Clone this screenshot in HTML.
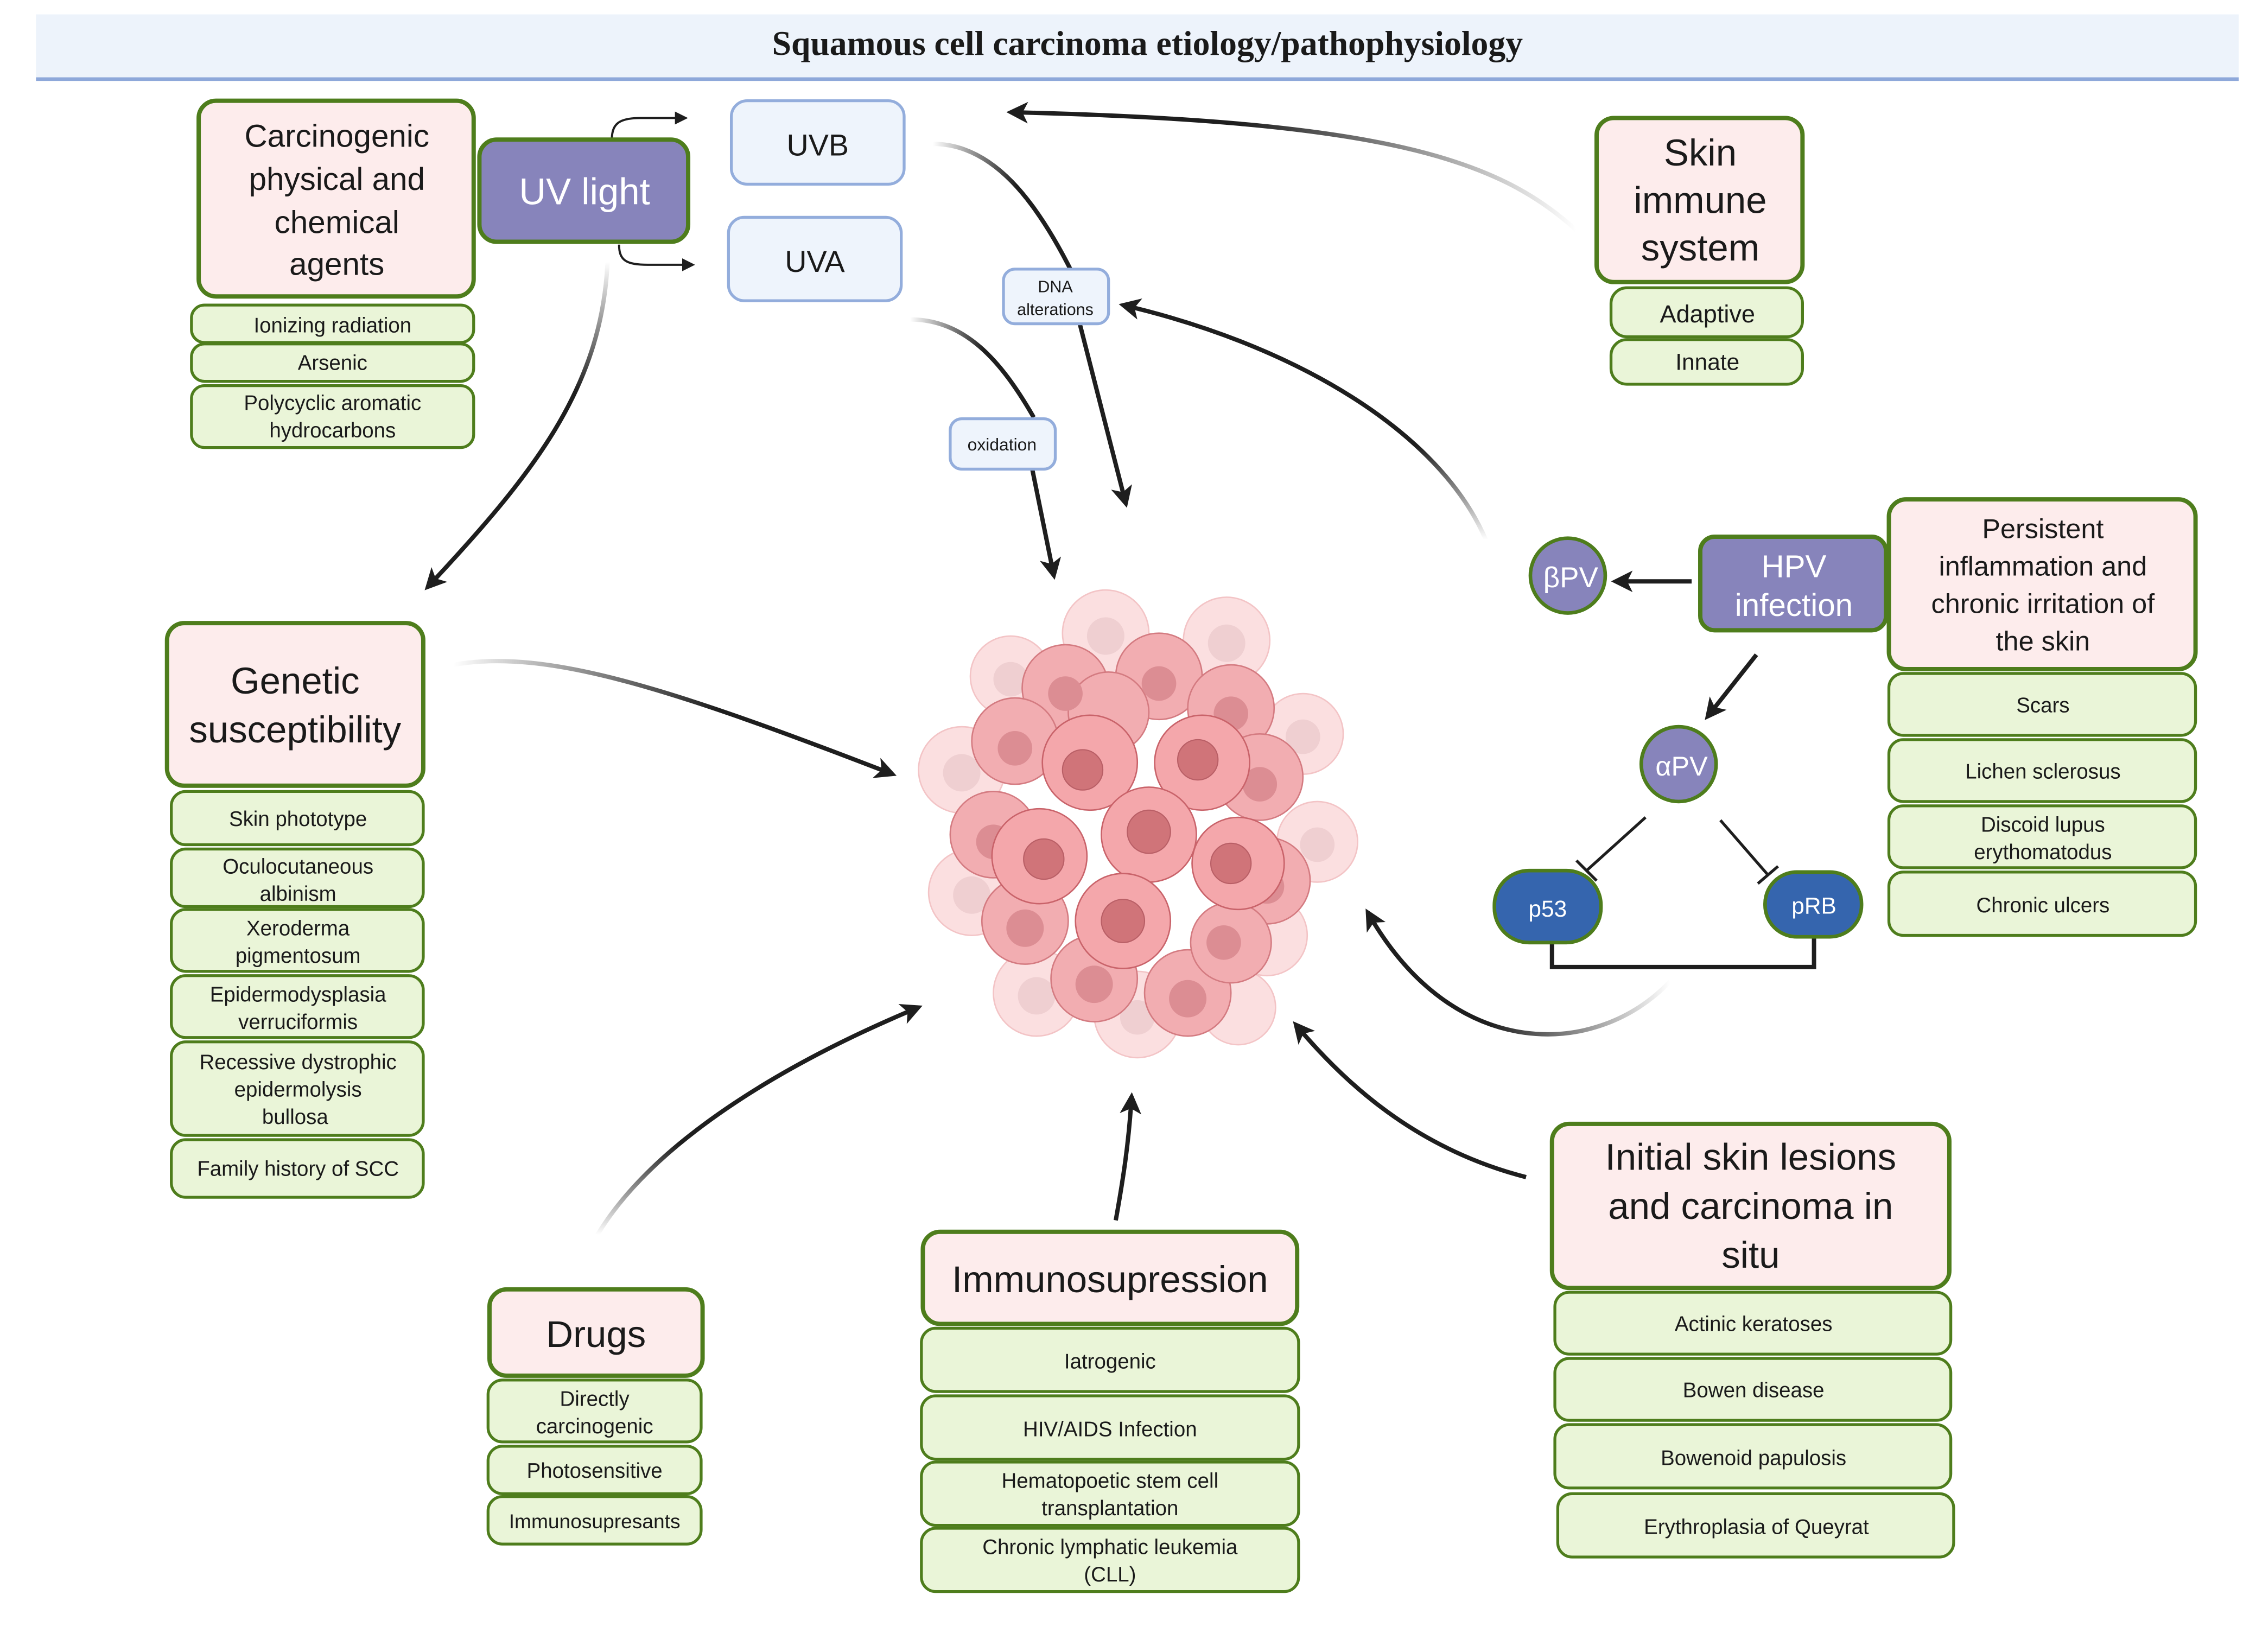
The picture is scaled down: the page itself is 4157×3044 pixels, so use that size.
<!DOCTYPE html>
<html><head><meta charset="utf-8"><style>
html,body{margin:0;padding:0;background:#fff}
svg{display:block}
text{font-family:"Liberation Sans",sans-serif;fill:#1a1a1a;text-anchor:middle}
.g{fill:#eaf5d8;stroke:#4e7d1c;stroke-width:2}
.p{fill:#fdecec;stroke:#4e7d1c;stroke-width:3}
.b{fill:#eef4fc;stroke:#93addc;stroke-width:2}
.s{font-size:14.5px}
.l{font-size:24px}
.w{fill:#fff}
.a{fill:none;stroke:#1e1e1e;stroke-width:3}
</style></head><body>
<svg width="4157" height="3044" viewBox="0 0 1567 1148" preserveAspectRatio="none" xmlns="http://www.w3.org/2000/svg">
<defs>
<marker id="ar" viewBox="0 0 10 10" refX="8" refY="5" markerWidth="5" markerHeight="5" orient="auto" markerUnits="strokeWidth"><path d="M0,0 L10,5 L0,10 L2.5,5z" fill="#1e1e1e"/></marker>
<marker id="sa" viewBox="0 0 10 10" refX="8" refY="5" markerWidth="6" markerHeight="6" orient="auto" markerUnits="strokeWidth"><path d="M0,0 L10,5 L0,10z" fill="#1e1e1e"/></marker>
<linearGradient id="fadeL" x1="0" y1="0" x2="1" y2="0"><stop offset="0" stop-color="#1e1e1e" stop-opacity="0"/><stop offset="0.6" stop-color="#1e1e1e"/></linearGradient>
<linearGradient id="fadeR" x1="1" y1="0" x2="0" y2="0"><stop offset="0" stop-color="#1e1e1e" stop-opacity="0"/><stop offset="0.6" stop-color="#1e1e1e"/></linearGradient>
<linearGradient id="fadeT" x1="0" y1="0" x2="0" y2="1"><stop offset="0" stop-color="#1e1e1e" stop-opacity="0"/><stop offset="0.4" stop-color="#1e1e1e"/></linearGradient>
<linearGradient id="fadeB" x1="0" y1="1" x2="0" y2="0"><stop offset="0" stop-color="#1e1e1e" stop-opacity="0"/><stop offset="0.4" stop-color="#1e1e1e"/></linearGradient>
</defs>

<!-- title -->
<rect x="25" y="10" width="1530" height="45" fill="#edf3fb"/>
<line x1="25" y1="55" x2="1555" y2="55" stroke="#8ea8da" stroke-width="2.5"/>
<text x="797" y="38" style="font-family:'Liberation Serif',serif;font-weight:bold;font-size:24px">Squamous cell carcinoma etiology/pathophysiology</text>

<!-- connectors -->
<path d="M425,97 C425,86 430,82 445,82 L476,82" fill="none" stroke="#1e1e1e" stroke-width="1.5" marker-end="url(#sa)"/>
<path d="M430,170 C430,181 435,184 450,184 L481,184" fill="none" stroke="#1e1e1e" stroke-width="1.5" marker-end="url(#sa)"/>
<path d="M422,182 C418,270 370,330 297,408" fill="none" stroke="url(#fadeT)" stroke-width="3" marker-end="url(#ar)"/>
<path d="M648,100 C690,100 720,140 745,190" fill="none" stroke="url(#fadeL)" stroke-width="3"/>
<path d="M750,225 L782,350" class="a" stroke-width="3.5" marker-end="url(#ar)"/>
<path d="M632,222 C670,222 695,250 718,290" fill="none" stroke="url(#fadeL)" stroke-width="3"/>
<path d="M717,326 L732,400" class="a" marker-end="url(#ar)"/>
<path d="M1095,160 C1040,110 960,84 702,78" fill="none" stroke="url(#fadeR)" stroke-width="3" marker-end="url(#ar)"/>
<path d="M1032,375 C1000,300 900,240 780,212" fill="none" stroke="url(#fadeB)" stroke-width="3" marker-end="url(#ar)"/>
<path d="M1175,404 L1122,404" class="a" stroke-width="3.5" marker-end="url(#ar)"/>
<path d="M1220,455 L1186,498" class="a" marker-end="url(#ar)"/>
<path d="M1143,568 L1102,605 M1095,598 L1109,612" fill="none" stroke="#1e1e1e" stroke-width="2"/>
<path d="M1195,570 L1228,608 M1221,614 L1235,602" fill="none" stroke="#1e1e1e" stroke-width="2"/>
<path d="M1078,655 L1078,672 L1260,672 L1260,651" fill="none" stroke="#1e1e1e" stroke-width="3"/>
<path d="M1160,682 C1110,735 1010,740 950,634" fill="none" stroke="url(#fadeR)" stroke-width="3" marker-end="url(#ar)"/>
<path d="M1060,818 C990,800 940,760 900,712" fill="none" stroke="#1e1e1e" stroke-width="3" marker-end="url(#ar)"/>
<path d="M775,848 C780,820 784,795 786,762" fill="none" stroke="#1e1e1e" stroke-width="3" marker-end="url(#ar)"/>
<path d="M415,858 C450,800 530,745 638,700" fill="none" stroke="url(#fadeB)" stroke-width="3" marker-end="url(#ar)"/>
<path d="M315,462 C380,450 470,480 620,538" fill="none" stroke="url(#fadeL)" stroke-width="3" marker-end="url(#ar)"/>

<!-- tumor -->
<g>
<g fill="#fbdfe0" stroke="#f3c4c6" stroke-width="1">
<circle cx="768" cy="440" r="30"/><circle cx="852" cy="445" r="30"/><circle cx="702" cy="470" r="28"/><circle cx="668" cy="535" r="30"/><circle cx="905" cy="510" r="28"/><circle cx="915" cy="585" r="28"/><circle cx="675" cy="620" r="30"/><circle cx="720" cy="690" r="30"/><circle cx="790" cy="705" r="30"/><circle cx="880" cy="650" r="28"/><circle cx="860" cy="700" r="26"/>
</g>
<g fill="#efcfd1"><circle cx="768" cy="442" r="13"/><circle cx="852" cy="447" r="13"/><circle cx="702" cy="472" r="12"/><circle cx="668" cy="537" r="13"/><circle cx="905" cy="512" r="12"/><circle cx="915" cy="587" r="12"/><circle cx="675" cy="622" r="13"/><circle cx="720" cy="692" r="13"/><circle cx="790" cy="707" r="12"/></g>
<g fill="#f2adb1" stroke="#d47b81" stroke-width="1">
<circle cx="740" cy="478" r="30"/><circle cx="805" cy="470" r="30"/><circle cx="855" cy="492" r="30"/><circle cx="705" cy="515" r="30"/><circle cx="875" cy="540" r="30"/><circle cx="690" cy="580" r="30"/><circle cx="880" cy="612" r="30"/><circle cx="712" cy="640" r="30"/><circle cx="760" cy="680" r="30"/><circle cx="825" cy="690" r="30"/><circle cx="855" cy="655" r="28"/><circle cx="770" cy="495" r="28"/>
</g>
<g fill="#dc8d93"><circle cx="740" cy="482" r="12"/><circle cx="805" cy="475" r="12"/><circle cx="855" cy="496" r="12"/><circle cx="705" cy="520" r="12"/><circle cx="875" cy="545" r="12"/><circle cx="690" cy="585" r="12"/><circle cx="880" cy="616" r="12"/><circle cx="712" cy="645" r="13"/><circle cx="760" cy="684" r="13"/><circle cx="825" cy="694" r="13"/><circle cx="850" cy="655" r="12"/></g>
<g fill="#f4a7ab" stroke="#c9636a" stroke-width="1">
<circle cx="757" cy="530" r="33"/><circle cx="835" cy="530" r="33"/><circle cx="722" cy="595" r="33"/><circle cx="798" cy="580" r="33"/><circle cx="860" cy="600" r="32"/><circle cx="780" cy="640" r="33"/>
</g>
<g fill="#d07479" stroke="#b95f66" stroke-width="0.8"><circle cx="752" cy="535" r="14"/><circle cx="832" cy="528" r="14"/><circle cx="725" cy="597" r="14"/><circle cx="798" cy="578" r="15"/><circle cx="855" cy="600" r="14"/><circle cx="780" cy="640" r="15"/></g>
</g>

<!-- Carcinogenic -->
<rect class="p" x="138" y="70" width="191" height="136" rx="12"/>
<text class="l" x="234" y="102" style="font-size:22px">Carcinogenic</text>
<text class="l" x="234" y="132" style="font-size:22px">physical and</text>
<text class="l" x="234" y="162" style="font-size:22px">chemical</text>
<text class="l" x="234" y="191" style="font-size:22px">agents</text>
<rect class="g" x="133" y="212" width="196" height="26" rx="9"/><text class="s" x="231" y="231">Ionizing radiation</text>
<rect class="g" x="133" y="239" width="196" height="26" rx="9"/><text class="s" x="231" y="257">Arsenic</text>
<rect class="g" x="133" y="268" width="196" height="43" rx="9"/><text class="s" x="231" y="285">Polycyclic aromatic</text><text class="s" x="231" y="304">hydrocarbons</text>

<rect x="333" y="97" width="145" height="71" rx="12" fill="#8784bb" stroke="#4e7d1c" stroke-width="3"/>
<text class="w" x="406" y="142" style="font-size:26px;fill:#fff">UV light</text>

<rect class="b" x="508" y="70" width="120" height="58" rx="11"/><text x="568" y="108" style="font-size:21px">UVB</text>
<rect class="b" x="506" y="151" width="120" height="58" rx="11"/><text x="566" y="189" style="font-size:21px">UVA</text>
<rect class="b" x="697" y="187" width="73" height="38" rx="8" stroke-width="1.3"/><text x="733" y="203" style="font-size:11.5px">DNA</text><text x="733" y="219" style="font-size:11.5px">alterations</text>
<rect class="b" x="660" y="291" width="73" height="35" rx="8" stroke-width="1.3"/><text x="696" y="313" style="font-size:12px">oxidation</text>

<!-- Skin immune -->
<rect class="p" x="1109" y="82" width="143" height="114" rx="12"/>
<text x="1181" y="115" style="font-size:26px">Skin</text><text x="1181" y="148" style="font-size:26px">immune</text><text x="1181" y="181" style="font-size:26px">system</text>
<rect class="g" x="1119" y="200" width="133" height="34" rx="11" stroke-width="2.5"/><text x="1186" y="224" style="font-size:17px">Adaptive</text>
<rect class="g" x="1119" y="236" width="133" height="31" rx="11" stroke-width="2.5"/><text x="1186" y="257" style="font-size:16px">Innate</text>

<!-- HPV -->
<circle cx="1089" cy="400" r="26" fill="#8784bb" stroke="#4e7d1c" stroke-width="2.5"/><text x="1091" y="408" style="font-size:20px;fill:#fff">βPV</text>
<rect x="1181" y="373" width="129" height="65" rx="10" fill="#8784bb" stroke="#4e7d1c" stroke-width="3"/>
<text x="1246" y="401" style="font-size:22px;fill:#fff">HPV</text><text x="1246" y="428" style="font-size:22px;fill:#fff">infection</text>
<circle cx="1166" cy="531" r="26" fill="#8784bb" stroke="#4e7d1c" stroke-width="2.5"/><text x="1168" y="539" style="font-size:19px;fill:#fff">αPV</text>
<rect x="1038" y="605" width="74" height="50" rx="24" fill="#3565ae" stroke="#4e7d1c" stroke-width="2.5"/><text x="1075" y="637" style="font-size:16px;fill:#fff">p53</text>
<rect x="1226" y="606" width="67" height="45" rx="22" fill="#3565ae" stroke="#4e7d1c" stroke-width="2.5"/><text x="1260" y="635" style="font-size:16px;fill:#fff">pRB</text>

<!-- Persistent -->
<rect class="p" x="1312" y="347" width="213" height="118" rx="12"/>
<text x="1419" y="374" style="font-size:19px">Persistent</text><text x="1419" y="400" style="font-size:19px">inflammation and</text><text x="1419" y="426" style="font-size:19px">chronic irritation of</text><text x="1419" y="452" style="font-size:19px">the skin</text>
<rect class="g" x="1312" y="468" width="213" height="43" rx="10"/><text class="s" x="1419" y="495">Scars</text>
<rect class="g" x="1312" y="514" width="213" height="43" rx="10"/><text class="s" x="1419" y="541">Lichen sclerosus</text>
<rect class="g" x="1312" y="560" width="213" height="43" rx="10"/><text class="s" x="1419" y="578">Discoid lupus</text><text class="s" x="1419" y="597">erythomatodus</text>
<rect class="g" x="1312" y="606" width="213" height="44" rx="10"/><text class="s" x="1419" y="634">Chronic ulcers</text>

<!-- Initial lesions -->
<rect class="p" x="1078" y="781" width="276" height="114" rx="12"/>
<text x="1216" y="813" style="font-size:26px">Initial skin lesions</text><text x="1216" y="847" style="font-size:26px">and carcinoma in</text><text x="1216" y="881" style="font-size:26px">situ</text>
<rect class="g" x="1080" y="898" width="275" height="43" rx="10"/><text class="s" x="1218" y="925">Actinic keratoses</text>
<rect class="g" x="1080" y="944" width="275" height="43" rx="10"/><text class="s" x="1218" y="971">Bowen disease</text>
<rect class="g" x="1080" y="990" width="275" height="44" rx="10"/><text class="s" x="1218" y="1018">Bowenoid papulosis</text>
<rect class="g" x="1082" y="1038" width="275" height="44" rx="10"/><text class="s" x="1220" y="1066">Erythroplasia of Queyrat</text>

<!-- Immunosupression -->
<rect class="p" x="641" y="856" width="260" height="64" rx="12"/>
<text x="771" y="898" style="font-size:26px">Immunosupression</text>
<rect class="g" x="640" y="923" width="262" height="44" rx="10"/><text class="s" x="771" y="951">Iatrogenic</text>
<rect class="g" x="640" y="970" width="262" height="44" rx="10"/><text class="s" x="771" y="998">HIV/AIDS Infection</text>
<rect class="g" x="640" y="1016" width="262" height="44" rx="10"/><text class="s" x="771" y="1034">Hematopoetic stem cell</text><text class="s" x="771" y="1053">transplantation</text>
<rect class="g" x="640" y="1062" width="262" height="44" rx="10"/><text class="s" x="771" y="1080">Chronic lymphatic leukemia</text><text class="s" x="771" y="1099">(CLL)</text>

<!-- Drugs -->
<rect class="p" x="340" y="896" width="148" height="60" rx="12"/>
<text x="414" y="936" style="font-size:26px">Drugs</text>
<rect class="g" x="339" y="959" width="148" height="43" rx="10"/><text class="s" x="413" y="977">Directly</text><text class="s" x="413" y="996">carcinogenic</text>
<rect class="g" x="339" y="1005" width="148" height="33" rx="10"/><text class="s" x="413" y="1027">Photosensitive</text>
<rect class="g" x="339" y="1040" width="148" height="33" rx="10"/><text class="s" x="413" y="1062" style="font-size:14px">Immunosupresants</text>

<!-- Genetic -->
<rect class="p" x="116" y="433" width="178" height="113" rx="12"/>
<text x="205" y="482" style="font-size:26px">Genetic</text><text x="205" y="516" style="font-size:26px">susceptibility</text>
<rect class="g" x="119" y="550" width="175" height="37" rx="10"/><text class="s" x="207" y="574">Skin phototype</text>
<rect class="g" x="119" y="590" width="175" height="40" rx="10"/><text class="s" x="207" y="607">Oculocutaneous</text><text class="s" x="207" y="626">albinism</text>
<rect class="g" x="119" y="632" width="175" height="43" rx="10"/><text class="s" x="207" y="650">Xeroderma</text><text class="s" x="207" y="669">pigmentosum</text>
<rect class="g" x="119" y="678" width="175" height="43" rx="10"/><text class="s" x="207" y="696">Epidermodysplasia</text><text class="s" x="207" y="715">verruciformis</text>
<rect class="g" x="119" y="724" width="175" height="65" rx="10"/><text class="s" x="207" y="743">Recessive dystrophic</text><text class="s" x="207" y="762">epidermolysis</text><text class="s" x="205" y="781">bullosa</text>
<rect class="g" x="119" y="792" width="175" height="40" rx="10"/><text class="s" x="207" y="817">Family history of SCC</text>
</svg>
</body></html>
